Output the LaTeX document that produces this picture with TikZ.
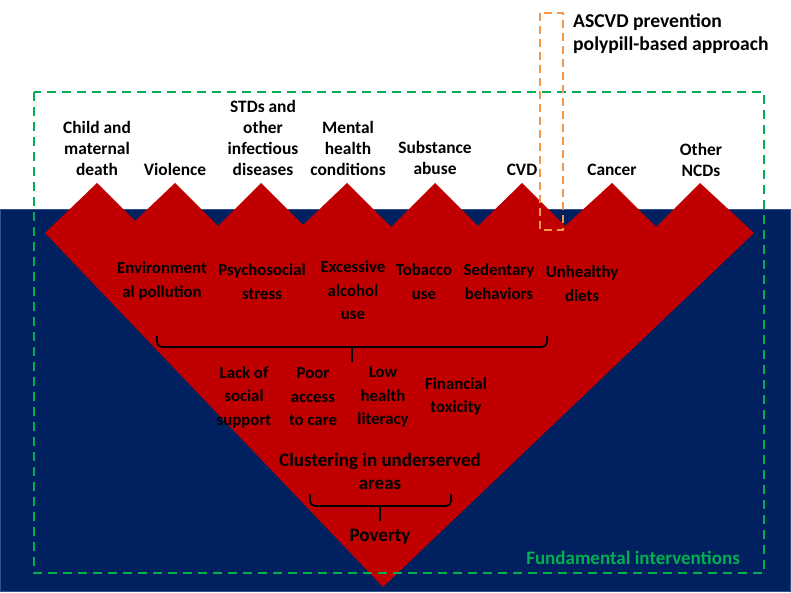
\documentclass[tikz,border=0pt]{standalone}
\usepackage{fontspec}
\setmainfont{Carlito}
\definecolor{navy}{RGB}{0,32,96}
\definecolor{navyedge}{RGB}{47,82,143}
\definecolor{redfill}{RGB}{192,0,0}
\definecolor{greendash}{RGB}{0,176,80}
\definecolor{orangedash}{RGB}{247,150,70}
\begin{document}
\begin{tikzpicture}[x=1pt,y=-1pt,
  toplbl/.style={font=\bfseries\fontsize{17.4}{21}\selectfont, align=center, inner sep=0pt, text=black},
  lbl/.style={font=\bfseries\fontsize{16.8}{23.5}\selectfont, align=center, inner sep=0pt, text=black},
  biglbl/.style={font=\bfseries\fontsize{19}{23}\selectfont, align=center, inner sep=0pt, text=black},
  ascvdlbl/.style={font=\bfseries\fontsize{19.6}{23}\selectfont, align=left, inner sep=0pt, text=black},
  bracestyle/.style={draw=black, line width=1.8pt, rounded corners=5pt},
  greenbox/.style={draw=greendash, line width=2pt, dash pattern=on 9pt off 6pt},
  orangebox/.style={draw=orangedash, line width=2pt, dash pattern=on 8pt off 5pt}]
\useasboundingbox (0,0) rectangle (791,593);
\fill[white] (0,0) rectangle (791,593);
% background band
\path[fill=navy, draw=navyedge, line width=1pt] (0,210) rectangle (790,591);
% red zigzag triangle
\fill[redfill] (45,233) -- (97,183) -- (135,221) -- (175,183) -- (218,226) -- (261,183)
  -- (303,225) -- (347,183) -- (391,227) -- (435,183) -- (478,226) -- (522,183)
  -- (565,226) -- (612,183) -- (656,227) -- (700,183) -- (754,233) -- (383,587) -- cycle;
% top labels
\node[toplbl] (child) at (97,148) {Child and\\maternal\\death};
\node[toplbl] (viol) at (175,169) {Violence};
\node[toplbl] (std) at (263,137.5) {STDs and\\other\\infectious\\diseases};
\node[toplbl] (mental) at (348,148) {Mental\\health\\conditions};
\node[toplbl] (subst) at (435,157.5) {Substance\\abuse};
\node[toplbl] (cvd) at (522,170) {CVD};
\node[toplbl] (cancer) at (612,170) {Cancer};
\node[toplbl] (ncd) at (701,159.5) {Other\\NCDs};
% middle labels
\node[lbl] (env) at (162,281) {Environment\\al pollution};
\node[lbl] (psy) at (262,281.5) {Psychosocial\\stress};
\node[lbl] (alc) at (353,290.5) {Excessive\\alcohol\\use};
\node[lbl] (tob) at (424,281.5) {Tobacco\\use};
\node[lbl] (sed) at (499,281.5) {Sedentary\\behaviors};
\node[lbl] (diet) at (582,283.5) {Unhealthy\\diets};
% brace 1
\coordinate (b1l) at (157,336);
\coordinate (b1r) at (547,336);
\coordinate (b1m) at (352,347);
\coordinate (b1t) at (352,362);
\draw[bracestyle] (b1l) |- (b1m) -| (b1r);
\draw[black, line width=1.8pt] (b1m) -- (b1t);
% lower labels
\node[lbl] (lack) at (244,397) {Lack of\\social\\support};
\node[lbl] (poor) at (313,397) {Poor\\access\\to care};
\node[lbl] (low) at (383,397) {Low\\health\\literacy};
\node[lbl] (fin) at (456,396.5) {Financial\\toxicity};
\node[biglbl] (clus) at (380,471.5) {Clustering in underserved\\areas};
% brace 2
\coordinate (b2l) at (310,494);
\coordinate (b2r) at (451,494);
\coordinate (b2m) at (380,506);
\coordinate (b2t) at (380,521);
\draw[bracestyle] (b2l) |- (b2m) -| (b2r);
\draw[black, line width=1.8pt] (b2m) -- (b2t);
\node[biglbl] (pov) at (380,537) {Poverty};
% dashed boxes
\draw[greenbox] (34,92) rectangle (764,573);
\node[biglbl, text=greendash, anchor=east] (fund) at (740,558) {Fundamental interventions};
\draw[orangebox] (540,13) rectangle (563,230);
\node[ascvdlbl, anchor=west] (ascvd) at (573,33.5) {ASCVD prevention\\polypill-based approach};
\end{tikzpicture}
\end{document}
